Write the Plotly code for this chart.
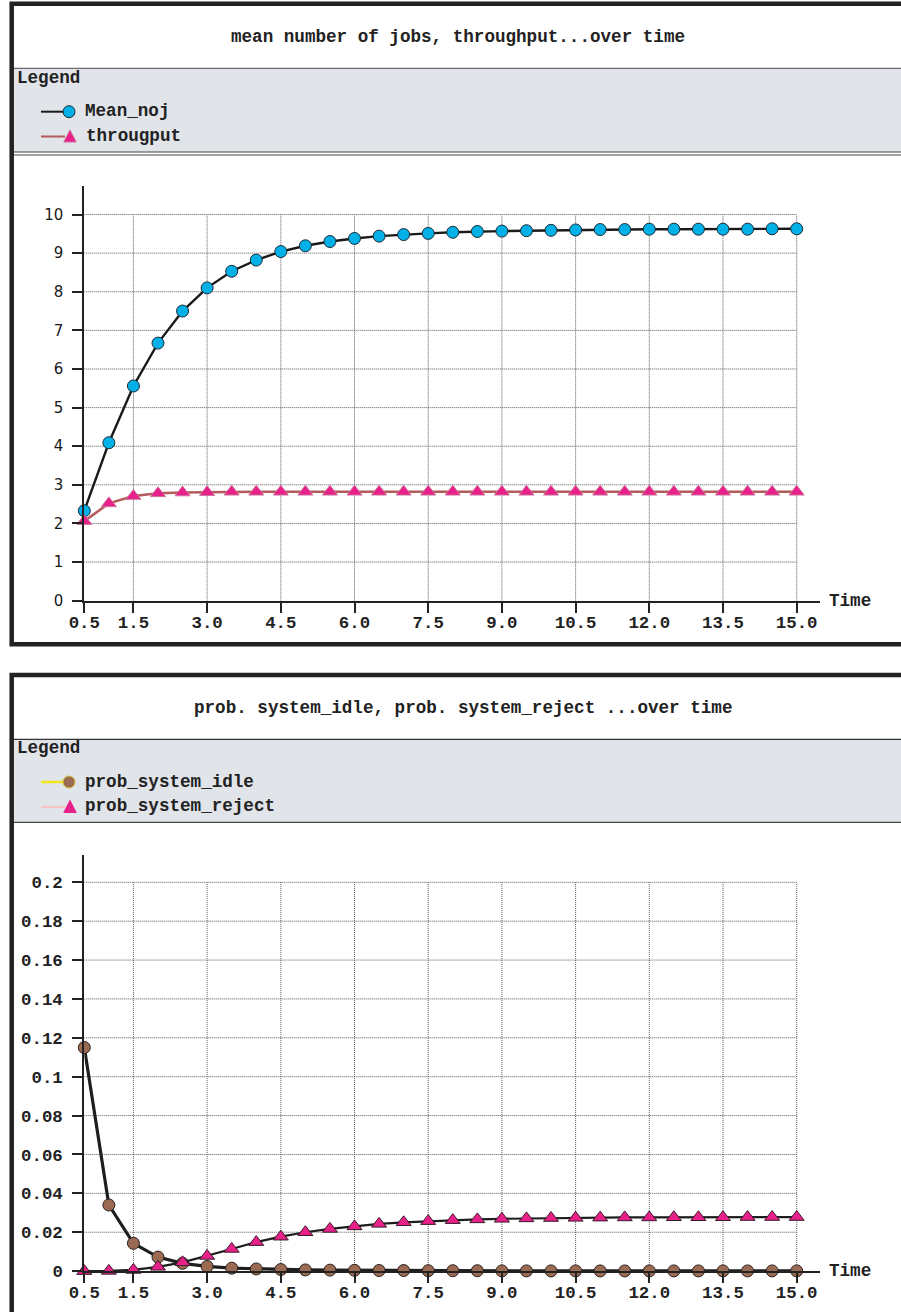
import plotly.graph_objects as go

W, H = 901, 1312

# ---------------- data ----------------
time = [0.5, 1.0, 1.5, 2.0, 2.5, 3.0, 3.5, 4.0, 4.5, 5.0,
        5.5, 6.0, 6.5, 7.0, 7.5, 8.0, 8.5, 9.0, 9.5, 10.0,
        10.5, 11.0, 11.5, 12.0, 12.5, 13.0, 13.5, 14.0, 14.5, 15.0]

mean_noj = [2.33, 4.09, 5.56, 6.67, 7.50, 8.10, 8.53, 8.82, 9.04, 9.19,
            9.30, 9.38, 9.44, 9.48, 9.51, 9.54, 9.56, 9.57, 9.58, 9.59,
            9.60, 9.61, 9.61, 9.62, 9.62, 9.62, 9.62, 9.62, 9.63, 9.63]

throughput = [2.06, 2.52, 2.71, 2.78, 2.80, 2.81, 2.82, 2.82, 2.82, 2.82,
              2.82, 2.82, 2.82, 2.82, 2.82, 2.82, 2.82, 2.82, 2.82, 2.82,
              2.82, 2.82, 2.82, 2.82, 2.82, 2.82, 2.82, 2.82, 2.82, 2.82]

prob_system_idle = [0.115, 0.034, 0.0143, 0.0072, 0.0040, 0.0024, 0.0015, 0.0011, 0.0008, 0.0006,
                    0.0005, 0.0004, 0.0003, 0.0003, 0.0002, 0.0002, 0.0002, 0.0001, 0.0001, 0.0001,
                    0.0001, 0.0001, 0.0001, 0.0001, 0.0001, 0.0001, 0.0001, 0.0001, 0.0001, 0.0001]

prob_system_reject = [0.0, 0.0001, 0.0006, 0.0022, 0.0045, 0.0078, 0.0114, 0.0149, 0.0177, 0.0200,
                      0.0217, 0.0230, 0.0243, 0.0251, 0.0257, 0.0262, 0.0266, 0.0269, 0.0271, 0.0273,
                      0.0274, 0.0275, 0.0276, 0.0276, 0.0277, 0.0277, 0.0277, 0.0278, 0.0278, 0.0278]

x_tickvals = [0.5, 1.5, 3.0, 4.5, 6.0, 7.5, 9.0, 10.5, 12.0, 13.5, 15.0]
x_ticktext = ["0.5", "1.5", "3.0", "4.5", "6.0", "7.5", "9.0", "10.5", "12.0", "13.5", "15.0"]
y1_tickvals = [0, 1, 2, 3, 4, 5, 6, 7, 8, 9, 10]
y1_ticktext = ["0", "1", "2", "3", "4", "5", "6", "7", "8", "9", "10"]
y2_tickvals = [0, 0.02, 0.04, 0.06, 0.08, 0.1, 0.12, 0.14, 0.16, 0.18, 0.2]
y2_ticktext = ["0", "0.02", "0.04", "0.06", "0.08", "0.1", "0.12", "0.14", "0.16", "0.18", "0.2"]

title1 = "mean number of jobs, throughput...over time"
title2 = "prob. system_idle, prob. system_reject ...over time"
legend1 = ["Mean_noj", "througput"]
legend2 = ["prob_system_idle", "prob_system_reject"]

# ---------------- styling helpers ----------------
MONO = "Liberation Mono"
SANS = "DejaVu Sans"
TXT = "#222222"


def fx(px):
    return px / W


def fy(py):
    return 1 - py / H


# pixel geometry of plot areas
X0_PX, XEND_PX = 84.3, 820.0
X_PER = 49.13
x_range = [0.5, 0.5 + (XEND_PX - X0_PX) / X_PER]

Y1_ZERO, Y1_TOP = 600.7, 186.0
Y1_PER = 38.62
y1_range = [0, (Y1_ZERO - Y1_TOP) / Y1_PER]

Y2_ZERO, Y2_TOP = 1271.1, 855.0
Y2_PER = 1944.0
y2_range = [0, (Y2_ZERO - Y2_TOP) / Y2_PER]

fig = go.Figure()

# ---------------- traces ----------------
fig.add_trace(go.Scatter(
    x=time, y=mean_noj, mode="lines+markers", xaxis="x", yaxis="y",
    line=dict(color="#1a1a1a", width=2.4),
    marker=dict(symbol="circle", size=12, color="#00b0e6", line=dict(color="#1b2a35", width=1)),
    cliponaxis=False, showlegend=False, name=legend1[0]))
fig.add_trace(go.Scatter(
    x=time, y=throughput, mode="lines+markers", xaxis="x", yaxis="y",
    line=dict(color="#b35a5a", width=2.5),
    marker=dict(symbol="triangle-up", size=13, color="#e8208a", line=dict(color="#d0709a", width=1)),
    cliponaxis=False, showlegend=False, name=legend1[1]))

fig.add_trace(go.Scatter(
    x=time, y=prob_system_idle, mode="lines+markers", xaxis="x2", yaxis="y2",
    line=dict(color="#1e1e1e", width=3.2),
    marker=dict(symbol="circle", size=12, color="#9a6a52", line=dict(color="#2a2020", width=1)),
    cliponaxis=False, showlegend=False, name=legend2[0]))
fig.add_trace(go.Scatter(
    x=time, y=prob_system_reject, mode="lines+markers", xaxis="x2", yaxis="y2",
    line=dict(color="#1e1e1e", width=2.2),
    marker=dict(symbol="triangle-up", size=13, color="#e8208a", line=dict(color="#3a1a2a", width=1)),
    cliponaxis=False, showlegend=False, name=legend2[1]))

shapes = []
annotations = []

# ---------------- panels (frames, bands) ----------------
for top, leg_top, leg_bot, double in [(3.8, 68.3, 152.0, True), (675.0, 739.3, 822.3, False)]:
    bottom = 644.3 if double else 1340
    shapes.append(dict(type="rect", xref="paper", yref="paper",
                       x0=fx(13.9), x1=fx(W + 5), y0=fy(leg_top), y1=fy(leg_bot),
                       fillcolor="#e1e4e9", line=dict(width=0), layer="below"))
    shapes.append(dict(type="line", xref="paper", yref="paper",
                       x0=fx(13.9), x1=fx(W + 5), y0=fy(leg_top), y1=fy(leg_top),
                       line=dict(color="#6a6a6a" if double else "#333333", width=1.2), layer="below"))
    shapes.append(dict(type="line", xref="paper", yref="paper",
                       x0=fx(13.9), x1=fx(W + 5), y0=fy(leg_bot), y1=fy(leg_bot),
                       line=dict(color="#444444", width=1.2), layer="below"))
    if double:
        shapes.append(dict(type="line", xref="paper", yref="paper",
                           x0=fx(13.9), x1=fx(W + 5), y0=fy(leg_bot + 3), y1=fy(leg_bot + 3),
                           line=dict(color="#444444", width=1.2), layer="below"))
    shapes.append(dict(type="rect", xref="paper", yref="paper",
                       x0=fx(11.7), x1=fx(W + 20), y0=fy(top), y1=fy(bottom),
                       line=dict(color="#222222", width=4.5), fillcolor="rgba(0,0,0,0)", layer="below"))

# ---------------- gridlines (data coords) ----------------
GRID = dict(color="#5a5a5a", width=1, dash="1px,1px")
for v in y1_tickvals[1:]:
    shapes.append(dict(type="line", xref="x", yref="y", x0=x_tickvals[0], x1=x_tickvals[-1],
                       y0=v, y1=v, line=GRID, layer="below"))
for v in x_tickvals[1:]:
    shapes.append(dict(type="line", xref="x", yref="y", x0=v, x1=v,
                       y0=y1_tickvals[0], y1=y1_tickvals[-1], line=GRID, layer="below"))
for v in y2_tickvals[1:]:
    shapes.append(dict(type="line", xref="x2", yref="y2", x0=x_tickvals[0], x1=x_tickvals[-1],
                       y0=v, y1=v, line=GRID, layer="below"))
for v in x_tickvals[1:]:
    shapes.append(dict(type="line", xref="x2", yref="y2", x0=v, x1=v,
                       y0=y2_tickvals[0], y1=y2_tickvals[-1], line=GRID, layer="below"))


# ---------------- legend symbols ----------------
def leg_line(y, color, width):
    shapes.append(dict(type="line", xref="paper", yref="paper",
                       x0=fx(41), x1=fx(65), y0=fy(y), y1=fy(y),
                       line=dict(color=color, width=width)))


def leg_circle(y, fill, edge):
    r = 6.0
    shapes.append(dict(type="circle", xref="paper", yref="paper",
                       x0=fx(69 - r), x1=fx(69 + r), y0=fy(y - r), y1=fy(y + r),
                       fillcolor=fill, line=dict(color=edge, width=1)))


def leg_tri(y, fill, edge):
    cx = 70
    path = "M {:.6f},{:.6f} L {:.6f},{:.6f} L {:.6f},{:.6f} Z".format(
        fx(cx), fy(y - 6.5), fx(cx - 6.2), fy(y + 5.5), fx(cx + 6.2), fy(y + 5.5))
    shapes.append(dict(type="path", xref="paper", yref="paper", path=path,
                       fillcolor=fill, line=dict(color=edge, width=1)))


leg_line(111.7, "#1a1a1a", 2)
leg_circle(111.7, "#00b0e6", "#1b2a35")
leg_line(136.5, "#b35a5a", 2)
leg_tri(136.5, "#e8208a", "#d0709a")

leg_line(782.0, "#f2e41c", 2.5)
leg_circle(782.0, "#9a6a52", "#d8c030")
leg_line(807.0, "#f7c4c6", 2)
leg_tri(807.0, "#e8208a", "#e8208a")


# ---------------- text ----------------
def text(s, x, y, anchor="left", size=17.6, family=MONO, bold=True):
    annotations.append(dict(text=s, xref="paper", yref="paper", x=fx(x), y=fy(y),
                            xanchor=anchor, yanchor="middle", showarrow=False,
                            font=dict(family=family, size=size, color=TXT,
                                      weight="bold" if bold else "normal")))


text(title1, 229, 37)
text("Legend", 15, 77.5)
text(legend1[0], 83, 111)
text(legend1[1], 83.5, 135.5)
text("Time", 827, 601)

text(title2, 192, 707.5)
text("Legend", 15, 747.5)
text(legend2[0], 83, 781.5)
text(legend2[1], 83, 806)
text("Time", 827, 1271)

# ---------------- axes ----------------
AX = dict(showline=True, linecolor="#222222", linewidth=2, showgrid=False, zeroline=False,
          ticks="outside", ticklen=10, tickwidth=1.5, tickcolor="#222222", fixedrange=True,
          automargin=False)
XFONT = dict(family=MONO, size=17.4, color=TXT, weight="bold")

fig.update_layout(
    width=W, height=H, autosize=False,
    margin=dict(l=0, r=0, t=0, b=0, pad=0, autoexpand=False),
    paper_bgcolor="white", plot_bgcolor="rgba(0,0,0,0)",
    showlegend=False,
    xaxis=dict(domain=[fx(X0_PX), fx(XEND_PX)], range=x_range, anchor="y",
               tickmode="array", tickvals=x_tickvals, ticktext=x_ticktext,
               tickfont=XFONT, ticklabelstandoff=-6, **AX),
    yaxis=dict(domain=[fy(Y1_ZERO), fy(Y1_TOP)], range=y1_range, anchor="x",
               tickmode="array", tickvals=y1_tickvals, ticktext=y1_ticktext,
               tickfont=dict(family=SANS, size=15, color="#1a1a1a"), ticklabelstandoff=6, **AX),
    xaxis2=dict(domain=[fx(X0_PX), fx(XEND_PX)], range=x_range, anchor="y2",
                tickmode="array", tickvals=x_tickvals, ticktext=x_ticktext,
                tickfont=XFONT, ticklabelstandoff=-6, **AX),
    yaxis2=dict(domain=[fy(Y2_ZERO), fy(Y2_TOP)], range=y2_range, anchor="x2",
                tickmode="array", tickvals=y2_tickvals, ticktext=y2_ticktext,
                tickfont=XFONT, ticklabelstandoff=6, **AX),
    shapes=shapes,
    annotations=annotations,
)

fig.write_html("out.html")
